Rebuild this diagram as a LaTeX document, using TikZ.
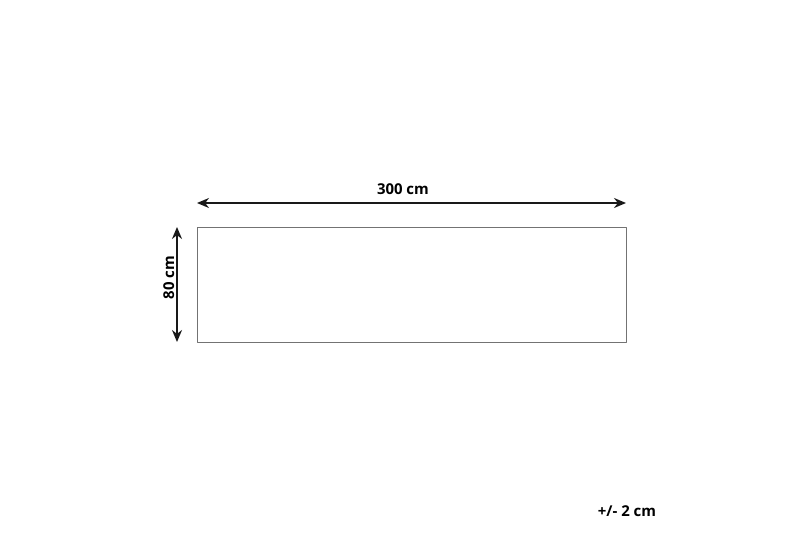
\documentclass[tikz,border=0pt]{standalone}
\usepackage{fontspec}
\setmainfont{Open Sans}
\usetikzlibrary{positioning,calc,arrows.meta}

\begin{document}
\begin{tikzpicture}[x=0.02cm, y=-0.02cm, line cap=round, line join=round,
		font=\fontsize{8.5}{9}\selectfont\bfseries]
	\useasboundingbox (0,0) rectangle (800,533);
	% ---- tấm thảm ----
	\coordinate (TL) at (197,227);
	\coordinate (BR) at (626,342);
	\draw[draw=black!55, line width=0.5pt] (TL) rectangle (BR);
	
	% ---- điểm đầu mũi tên kích thước ----
	\coordinate (W1) at (197,203);
	\coordinate (W2) at (626,203);
	\coordinate (H1) at (177,227);
	\coordinate (H2) at (177,342);
	
	\tikzset{dim/.style={{Stealth[length=2.4mm,width=2mm]}-{Stealth[length=2.4mm,width=2mm]},
			line width=1.1pt, draw=black!90}}
	
	% ---- kích thước ----
	\draw[dim] (W1) -- (W2) node[pos=0.48, above=0.3mm] (lw) {300 cm};
	\draw[dim] (H1) -- (H2) node[pos=0.44, left=0mm, rotate=90, anchor=south, inner sep=1pt] (lh) {80 cm};
	
	% ---- dung sai ----
	\node (tol) at (627,511) {+/- 2 cm};
\end{tikzpicture}
\end{document}
